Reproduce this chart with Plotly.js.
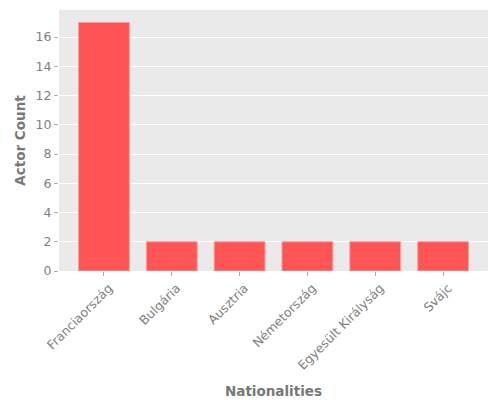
<!DOCTYPE html>
<html><head><meta charset="utf-8">
<script src="https://cdn.plot.ly/plotly-3.0.1.min.js"></script>
<style>body{margin:0;}#c{width:500px;height:400px;}</style>
</head><body><div id="c"></div>
<script>
const categories = ["Franciaország", "Bulgária", "Ausztria", "Németország", "Egyesült Királyság", "Svájc"];
const actorCounts = [17, 2, 2, 2, 2, 2];
const yTicks = [0, 2, 4, 6, 8, 10, 12, 14, 16];

Plotly.newPlot('c', [{
  type: 'bar',
  x: categories.map((_, i) => i),
  y: actorCounts,
  width: 0.75,
  marker: {color: '#FF5555', line: {color: '#F5A0A0', width: 1}},
  hoverinfo: 'none'
}], {
  width: 500, height: 400,
  margin: {l: 59, r: 12, t: 10, b: 129},
  paper_bgcolor: 'white',
  plot_bgcolor: '#EAEAEA',
  font: {family: 'DejaVu Sans', color: '#808080', size: 12},
  showlegend: false,
  bargap: 0,
  xaxis: {
    range: [-0.6625, 5.6625],
    tickmode: 'array',
    tickvals: categories.map((_, i) => i),
    ticktext: categories,
    tickangle: -45,
    ticklabelshift: 5,
    ticks: 'outside', ticklen: 4, tickcolor: '#aaa', tickwidth: 1,
    showgrid: false, zeroline: false, showline: false,
    tickfont: {size: 12.5, color: '#808080'},
    title: {text: 'Nationalities', font: {size: 13.5, color: '#787878', weight: 'bold'}, standoff: 14},
    automargin: false
  },
  yaxis: {
    range: [0, 17.85],
    tickmode: 'array',
    tickvals: yTicks,
    ticks: 'outside', ticklen: 4, tickcolor: '#aaa', tickwidth: 1,
    showgrid: true, gridcolor: 'white', gridwidth: 1,
    zeroline: false, showline: false,
    tickfont: {size: 12.5, color: '#808080'},
    title: {text: 'Actor Count', font: {size: 13.5, color: '#787878', weight: 'bold'}, standoff: 6},
    automargin: false
  }
}, {staticPlot: true});
</script>
</body></html>
